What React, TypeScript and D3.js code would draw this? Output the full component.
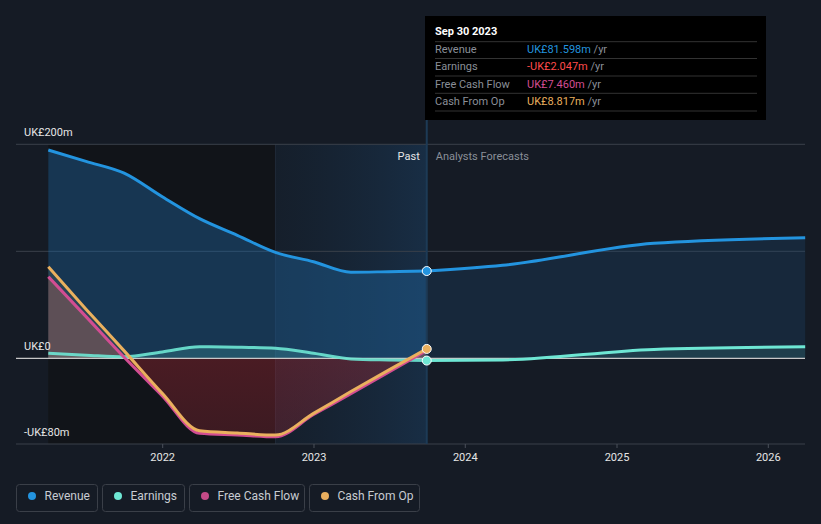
import React from "react";
import * as d3 from "d3";

const pastDates = ["2021-03-31","2021-06-30","2021-09-30","2021-12-31","2022-03-31","2022-06-30","2022-09-30","2022-12-31","2023-03-31","2023-06-30","2023-09-30"];
const revenuePast = [194.7, 184, 173, 151, 130.5, 115, 99, 90.3, 80.5, 81, 81.6];
const earningsPast = [4.7, 3, 1.5, 6, 10.8, 10.5, 9.5, 4.7, -0.5, -1.5, -2.05];
const fcfPast = [76.3, 39, 1, -35, -70, -71.5, -73.2, -52.5, -33, -13, 7.46];
const cfoPast = [85.6, 46, 7, -32.7, -67.6, -69.7, -71.7, -51.4, -31, -11, 8.82];

const forecastDates = ["2023-09-30","2024-03-31","2025-03-31","2026-03-31"];
const revenueForecast = [81.6, 87, 107.5, 112.7];
const earningsForecast = [-2.05, -1.5, 8.4, 10.8];

const yTicks = [200, 0, -80];
const yTickLabels = ["UK£200m", "UK£0", "-UK£80m"];
const xTickYears = [2022, 2023, 2024, 2025, 2026];

const legendItems = [
  { label: "Revenue", color: "#2394df" },
  { label: "Earnings", color: "#6ee7d4" },
  { label: "Free Cash Flow", color: "#c44a87" },
  { label: "Cash From Op", color: "#e8ae5e" },
];

const tooltipRows = [
  { label: "Revenue", value: "UK£81.598m", color: "#2394df" },
  { label: "Earnings", value: "-UK£2.047m", color: "#ff4b4b" },
  { label: "Free Cash Flow", value: "UK£7.460m", color: "#d24d92" },
  { label: "Cash From Op", value: "UK£8.817m", color: "#e8ae5e" },
];

type P = { d: Date; v: number };
const toPts = (dates: string[], vals: number[]): P[] =>
  dates.map((s, i) => ({ d: new Date(s + "T00:00:00"), v: vals[i] }));

export default function App() {
  const W = 821, H = 524;
  const left = 16, right = 805, top = 144.3, bottom = 444;
  const x = d3.scaleTime()
    .domain([new Date("2022-01-01T00:00:00"), new Date("2026-01-01T00:00:00")])
    .range([162.7, 768.3]);
  const y = d3.scaleLinear().domain([-80, 200]).range([bottom, top]);

  const revP = toPts(pastDates, revenuePast);
  const earnP = toPts(pastDates, earningsPast);
  const fcfP = toPts(pastDates, fcfPast);
  const cfoP = toPts(pastDates, cfoPast);
  const revF = toPts(forecastDates, revenueForecast);
  const earnF = toPts(forecastDates, earningsForecast);

  const line = d3.line<P>().x(p => x(p.d)).y(p => y(p.v)).curve(d3.curveMonotoneX);
  const area = d3.area<P>().x(p => x(p.d)).y0(y(0)).y1(p => y(p.v)).curve(d3.curveMonotoneX);

  const nowX = x(new Date("2023-09-30T00:00:00"));
  const startX = x(revP[0].d);
  const pastStart = x(new Date("2022-09-30T00:00:00"));
  const zeroY = y(0);

  return (
    <svg width={W} height={H} style={{ position: "fixed", left: 0, top: 0, fontFamily: "Roboto, 'Noto Sans', sans-serif" }}>
      <defs>
        <linearGradient id="pastGrad" x1="0" x2="1" y1="0" y2="0">
          <stop offset="0" stopColor="#16283a" stopOpacity={0.3} />
          <stop offset="1" stopColor="#1a3a5a" stopOpacity={0.6} />
        </linearGradient>
        <linearGradient id="negGrad" x1="0" x2="0" y1="0" y2="1">
          <stop offset="0" stopColor="#c02a35" stopOpacity={0.42} />
          <stop offset="1" stopColor="#a02835" stopOpacity={0.3} />
        </linearGradient>
        <clipPath id="above"><rect x={0} y={0} width={W} height={zeroY} /></clipPath>
        <clipPath id="below"><rect x={0} y={zeroY} width={W} height={H - zeroY} /></clipPath>
      </defs>
      <rect x={0} y={0} width={W} height={H} fill="#151b25" />
      {/* dark past region */}
      <rect x={startX} y={top} width={pastStart - startX} height={bottom - top} fill="#111419" />
      <rect x={pastStart} y={top} width={nowX - pastStart} height={bottom - top} fill="url(#pastGrad)" />
      <line x1={pastStart} x2={pastStart} y1={top} y2={bottom} stroke="#1f2a38" strokeWidth={1} />

      {/* gridlines */}
      {[200, 100].map(v => (
        <line key={v} x1={left} x2={right} y1={y(v)} y2={y(v)} stroke="#3a404a" strokeWidth={1} />
      ))}
      <line x1={left} x2={right} y1={bottom} y2={bottom} stroke="#3a404a" strokeWidth={1} />

      {/* revenue areas */}
      <path d={area(revP) || ""} fill="#1f5f96" fillOpacity={0.46} />
      <path d={area(revF) || ""} fill="#1f4a70" fillOpacity={0.3} />
      {/* earnings areas */}
      <path d={area(earnP) || ""} fill="#5ee0d0" fillOpacity={0.18} />
      <path d={area(earnF) || ""} fill="#5ee0d0" fillOpacity={0.12} />
      {/* cash flow areas */}
      <g clipPath="url(#above)">
        <path d={area(fcfP) || ""} fill="#e0605a" fillOpacity={0.35} />
        <path d={area(cfoP) || ""} fill="#60705a" fillOpacity={0.25} />
      </g>
      <g clipPath="url(#below)">
        <path d={area(fcfP) || ""} fill="url(#negGrad)" />
      </g>

      {/* zero line */}
      <line x1={left} x2={right} y1={zeroY} y2={zeroY} stroke="#c8c8c8" strokeWidth={1.3} />

      {/* now line */}
      <line x1={nowX} x2={nowX} y1={120} y2={bottom} stroke="#1d3a56" strokeWidth={2} />

      {/* lines */}
      <path d={line(revP) || ""} fill="none" stroke="#2394df" strokeWidth={3} />
      <path d={line(revF) || ""} fill="none" stroke="#2394df" strokeWidth={3} />
      <path d={line(earnP) || ""} fill="none" stroke="#6ee7d4" strokeWidth={3} opacity={0.9} />
      <path d={line(earnF) || ""} fill="none" stroke="#6ee7d4" strokeWidth={3} />
      <path d={line(fcfP) || ""} fill="none" stroke="#d24d92" strokeWidth={3} />
      <path d={line(cfoP) || ""} fill="none" stroke="#eab05e" strokeWidth={3} />

      {/* end markers */}
      <circle cx={nowX} cy={y(revenuePast[revenuePast.length - 1])} r={4.5} fill="#2394df" stroke="#fff" strokeWidth={1} />
      <circle cx={nowX} cy={y(cfoPast[cfoPast.length - 1])} r={4.5} fill="#eab05e" stroke="#fff" strokeWidth={1} />
      <circle cx={nowX} cy={y(earningsPast[earningsPast.length - 1])} r={4.5} fill="#6ee7d4" stroke="#fff" strokeWidth={1} />

      {/* y labels */}
      {yTicks.map((v, i) => (
        <text key={v} x={24} y={y(v) - 8} fill="#e6e6e6" fontSize={11}>{yTickLabels[i]}</text>
      ))}

      {/* x ticks */}
      {xTickYears.map(yr => {
        const tx = x(new Date(`${yr}-01-01T00:00:00`));
        return (
          <g key={yr}>
            <line x1={tx} x2={tx} y1={bottom} y2={bottom + 4} stroke="#4a505a" />
            <text x={tx} y={461} textAnchor="middle" fill="#e6e6e6" fontSize={11}>{yr}</text>
          </g>
        );
      })}

      {/* past / forecast labels */}
      <text x={nowX - 7} y={160} textAnchor="end" fill="#e6e6e6" fontSize={11}>Past</text>
      <text x={nowX + 9} y={160} fill="#8a8f98" fontSize={11}>Analysts Forecasts</text>

      {/* tooltip */}
      <rect x={425} y={16} width={341} height={104} fill="#000" />
      <text x={435} y={35} fill="#fff" fontSize={11} fontWeight="bold">Sep 30 2023</text>
      {[41.7, 58.5, 76, 93.3, 111].map((ly, i) => (
        <line key={i} x1={435} x2={757} y1={ly} y2={ly} stroke="#333" strokeWidth={1} />
      ))}
      {tooltipRows.map((r, i) => {
        const by = 53 + i * 17.4;
        return (
          <g key={r.label}>
            <text x={435} y={by} fill="#8a8f98" fontSize={11}>{r.label}</text>
            <text x={527} y={by} fontSize={11}>
              <tspan fill={r.color}>{r.value}</tspan>
              <tspan fill="#8a8f98"> /yr</tspan>
            </text>
          </g>
        );
      })}

      {/* legend */}
      {(() => {
        const widths = [81, 82, 115, 110];
        let cx = 16.5;
        return legendItems.map((it, i) => {
          const gx = cx;
          cx += widths[i] + 5;
          return (
            <g key={it.label}>
              <rect x={gx} y={484.5} width={widths[i]} height={27} rx={3} fill="none" stroke="#3a3f48" />
              <circle cx={gx + 15.5} cy={496} r={4} fill={it.color} />
              <text x={gx + 28} y={500} fill="#c8ccd2" fontSize={12}>{it.label}</text>
            </g>
          );
        });
      })()}
    </svg>
  );
}
